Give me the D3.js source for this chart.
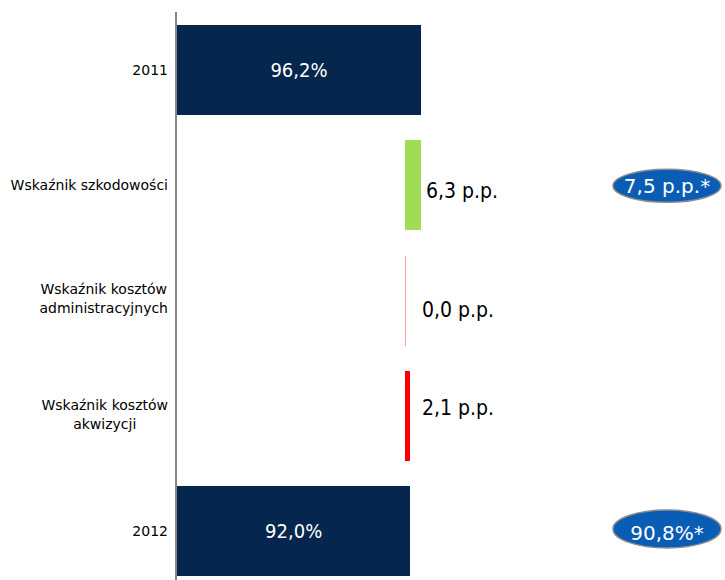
<!DOCTYPE html>
<html><head><meta charset="utf-8">
<script src="https://cdn.jsdelivr.net/npm/d3@7"></script>
<style>body{margin:0;background:#fff}svg{display:block}</style>
</head><body><svg id="c" width="725" height="580"></svg>
<script>
const categories = ["2011", "Wskaźnik szkodowości", "Wskaźnik kosztów administracyjnych", "Wskaźnik kosztów akwizycji", "2012"];
const categoryLines = [["2011"], ["Wskaźnik szkodowości"], ["Wskaźnik kosztów", "administracyjnych"], ["Wskaźnik kosztów", "akwizycji"], ["2012"]];
const values = [96.2, -6.3, 0.0, 2.1, 92.0];
const kinds = ["total", "delta", "delta", "delta", "total"];
const valueLabels = ["96,2%", "6,3 p.p.", "0,0 p.p.", "2,1 p.p.", "92,0%"];
const barColors = ["#05264d", "#a0dc55", "#ffa0a0", "#ff0000", "#05264d"];
const annotationCats = ["Wskaźnik szkodowości", "2012"];
const annotationLabels = ["7,5 p.p.*", "90,8%*"];

const svg = d3.select("#c");
const x0 = 177;
const x = d3.scaleLinear().domain([0, 96.2]).range([x0, 421]);
const y = d3.scaleBand().domain(categories).range([12.5, 588.5]).paddingInner(0.22).paddingOuter(0.11);

// waterfall
let running = 0;
const bars = categories.map((c, i) => {
  let a, b;
  if (kinds[i] === "total") { a = 0; b = values[i]; running = values[i]; }
  else { const s = running; running = running + values[i]; a = Math.min(s, running); b = Math.max(s, running); }
  return { c, a, b, i };
});

svg.selectAll("rect.bar").data(bars).enter().append("rect")
  .attr("class", "bar")
  .attr("x", d => Math.floor(x(d.a)))
  .attr("y", d => Math.round(y(d.c)))
  .attr("width", d => Math.max(1, Math.round(x(d.b)) - Math.floor(x(d.a))))
  .attr("height", Math.round(y.bandwidth()))
  .attr("fill", d => barColors[d.i]);

// axis line
svg.append("line").attr("x1", x0 - 1).attr("x2", x0 - 1).attr("y1", 12).attr("y2", 580)
  .attr("stroke", "#888").attr("stroke-width", 2);

// value labels
const font = "DejaVu Sans, Verdana, sans-serif";
const condFont = "'DejaVu Sans Condensed', 'DejaVu Sans', sans-serif";
const labelDy = [0, 5, 9, -8, 0];
svg.selectAll("text.val").data(bars).enter().append("text")
  .attr("class", "val")
  .attr("x", d => kinds[d.i] === "total" ? (x(d.a) + x(d.b)) / 2 : Math.max(x(d.b) + 5, 422))
  .attr("y", d => y(d.c) + y.bandwidth() / 2 + labelDy[d.i])
  .attr("dy", "0.36em")
  .attr("text-anchor", d => kinds[d.i] === "total" ? "middle" : "start")
  .attr("fill", d => kinds[d.i] === "total" ? "#fff" : "#000")
  .style("font-family", condFont)
  .style("font-stretch", "condensed")
  .style("font-size", d => kinds[d.i] === "total" ? "20px" : "21px")
  .text(d => valueLabels[d.i]);

// category labels
const right = 168;
categories.forEach((c, i) => {
  const lines = categoryLines[i];
  const g = svg.append("g");
  const cy = y(c) + y.bandwidth() / 2;
  const lh = 19;
  const ts = lines.map((l, k) => g.append("text")
    .attr("y", cy + (k - (lines.length - 1) / 2) * lh - (lines.length > 1 ? 1.5 : 0))
    .attr("dy", "0.35em")
    .attr("text-anchor", "middle")
    .style("font-family", font).style("font-size", "14px").attr("fill", "#000")
    .text(l));
  const w = d3.max(ts, t => t.node().getComputedTextLength());
  ts.forEach(t => t.attr("x", right - w / 2));
});

// annotation ellipses
const ellRy = [16.5, 19];
const ellDy = [0.5, -2];
annotationCats.forEach((c, k) => {
  const cy = y(c) + y.bandwidth() / 2 + ellDy[k];
  svg.append("ellipse").attr("cx", 667).attr("cy", cy).attr("rx", 54).attr("ry", ellRy[k])
    .attr("fill", "#0a5db5").attr("stroke", "#8c8c8c").attr("stroke-width", 1.5);
  svg.append("text").attr("x", 667).attr("y", cy + (k === 1 ? 4 : 0)).attr("dy", "0.36em")
    .attr("text-anchor", "middle").attr("fill", "#fff")
    .style("font-family", font).style("font-size", "20px")
    .text(annotationLabels[k]);
});
</script></body></html>
